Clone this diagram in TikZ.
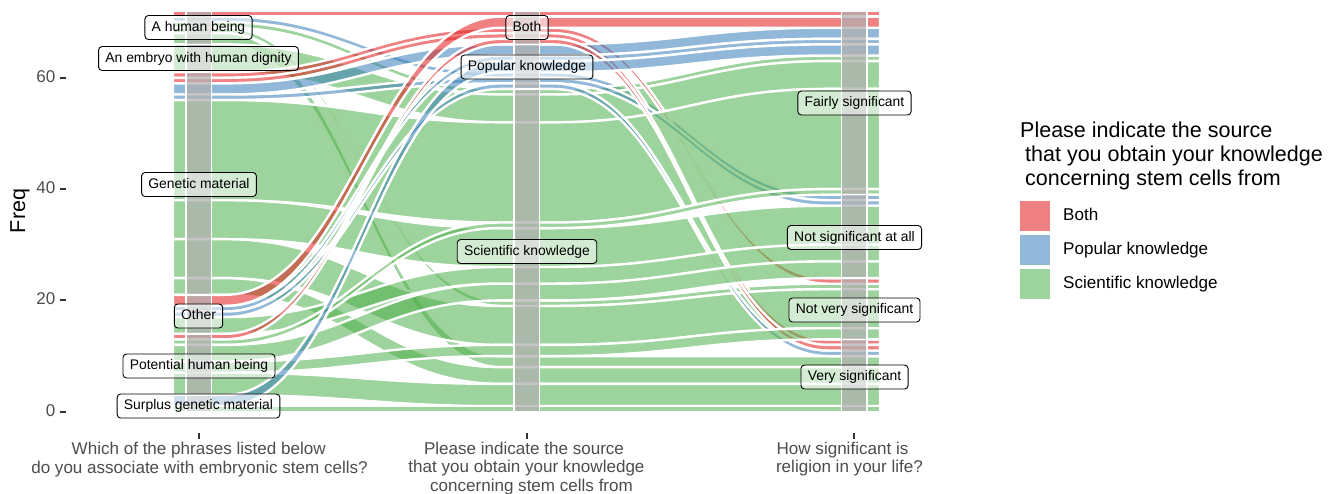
\documentclass[tikz,border=0pt]{standalone}
\usepackage{fontspec}
\setmainfont{Liberation Sans}
\definecolor{cB}{HTML}{E41A1C}
\definecolor{cP}{HTML}{377EB8}
\definecolor{cS}{HTML}{4DAF4A}
\definecolor{axtxt}{HTML}{4D4D4D}
\definecolor{tickc}{HTML}{333333}
\definecolor{strat}{RGB}{176,176,176}
\tikzset{
  alluvstyle/.style={fill opacity=0.55, draw=white, line width=2.4pt, line join=round},
  stratstyle/.style={fill=strat, fill opacity=0.72, draw=white, line width=1.6pt},
  lab/.style={draw=black, line width=0.9pt, fill=white, fill opacity=0.55, text opacity=1,
    rounded corners=3.5pt, font=\fontsize{13.9}{16}\selectfont, minimum height=24pt,
    inner xsep=6.8pt, inner ysep=0pt, text height=0.8em, text depth=0.1em},
  axlab/.style={font=\fontsize{17.05}{20}\selectfont, text=axtxt, inner sep=0pt,
    text height=0.9em, text depth=0em},
  ytl/.style={axlab, anchor=east},
  legt/.style={font=\fontsize{21.5}{24}\selectfont, text=black, inner sep=0pt,
    text height=0.9em, text depth=0em, anchor=west},
  legl/.style={font=\fontsize{17.05}{20}\selectfont, text=black, inner sep=0pt,
    text height=0.9em, text depth=0em, anchor=west},
  keybox/.style={minimum width=30pt, minimum height=30pt, inner sep=0pt, fill opacity=0.55, draw=none},
  tickmark/.style={draw=tickc, line width=2pt}
}
% colour, width, top at axis 1, top at axis 2, top at axis 3
\newcommand\alluv[5]{%
  \filldraw[alluvstyle, fill=#1]
    (173,#3) -- (225,#3) .. controls (349,#3) and (377,#4) .. (501,#4)
    -- (553,#4) .. controls (677,#4) and (704,#5) .. (828,#5)
    -- (880,#5) -- (880,{#5-#2}) -- (828,{#5-#2})
    .. controls (704,{#5-#2}) and (677,{#4-#2}) .. (553,{#4-#2})
    -- (501,{#4-#2}) .. controls (377,{#4-#2}) and (349,{#3-#2}) .. (225,{#3-#2})
    -- (173,{#3-#2}) -- cycle;}
\newcommand\stratbox[3]{\filldraw[stratstyle] ({#1-12.75},#2) rectangle ({#1+12.75},#3);}
\begin{document}
\begin{tikzpicture}[x=1pt,y=-1pt]
\useasboundingbox (0,0) rectangle (1333,493);
\begin{scope}[shift={(0,411.7)}, y=5.565pt]
  % alluvia
  \alluv{cB}{1}{72}{72}{72}
  \alluv{cP}{1}{71}{61}{39}
  \alluv{cS}{1}{70}{58}{64}
  \alluv{cS}{1}{69}{20}{23}
  \alluv{cS}{2}{68}{10}{10}
  \alluv{cS}{5}{66}{57}{63}
  \alluv{cB}{1}{61}{69}{24}
  \alluv{cB}{1}{60}{68}{13}
  \alluv{cP}{2}{59}{66}{69}
  \alluv{cP}{1}{57}{60}{38}
  \alluv{cS}{18}{56}{52}{58}
  \alluv{cS}{7}{38}{33}{37}
  \alluv{cS}{7}{31}{19}{22}
  \alluv{cS}{3}{24}{8}{8}
  \alluv{cB}{2}{21}{71}{71}
  \alluv{cP}{1}{19}{64}{67}
  \alluv{cP}{1}{18}{59}{11}
  \alluv{cS}{3}{17}{26}{30}
  \alluv{cB}{1}{14}{67}{12}
  \alluv{cS}{1}{13}{34}{40}
  \alluv{cS}{3}{12}{23}{27}
  \alluv{cS}{2}{9}{12}{15}
  \alluv{cS}{4}{7}{5}{5}
  \alluv{cP}{2}{3}{63}{66}
  \alluv{cS}{1}{1}{1}{1}
  % strata
  \stratbox{198.7}{66}{72}
  \stratbox{198.7}{61}{66}
  \stratbox{198.7}{21}{61}
  \stratbox{198.7}{14}{21}
  \stratbox{198.7}{3}{14}
  \stratbox{198.7}{0}{3}
  \stratbox{526.7}{66}{72}
  \stratbox{526.7}{58}{66}
  \stratbox{526.7}{0}{58}
  \stratbox{854.3}{39}{72}
  \stratbox{854.3}{24}{39}
  \stratbox{854.3}{13}{24}
  \stratbox{854.3}{0}{13}
\end{scope}
% stratum labels
\node[lab] (lHum) at (198.5,27.5) {A human being};
\node[lab] (lEmb) at (198.5,58.5) {An embryo with human dignity};
\node[lab] (lGen) at (199,184.5) {Genetic material};
\node[lab] (lOth) at (198.5,316) {Other};
\node[lab] (lPot) at (199,366) {Potential human being};
\node[lab] (lSur) at (198.5,406) {Surplus genetic material};
\node[lab] (lBoth) at (527,27.5) {Both};
\node[lab] (lPop) at (527,67) {Popular knowledge};
\node[lab] (lSci) at (527,251.5) {Scientific knowledge};
\node[lab] (lFai) at (854.5,103) {Fairly significant};
\node[lab] (lNsa) at (854.5,237.5) {Not significant at all};
\node[lab] (lNvs) at (854.5,310) {Not very significant};
\node[lab] (lVs) at (854.5,377) {Very significant};
% y axis
\node[ytl] (y0) at (55.5,411.7) {0};
\node[ytl] (y20) at (55.5,300.4) {20};
\node[ytl] (y40) at (55.5,189.1) {40};
\node[ytl] (y60) at (55.5,77.8) {60};
\draw[tickmark] (59.5,411.7) -- (65.5,411.7);
\draw[tickmark] (59.5,300.4) -- (65.5,300.4);
\draw[tickmark] (59.5,189.1) -- (65.5,189.1);
\draw[tickmark] (59.5,77.8) -- (65.5,77.8);
\node[font=\fontsize{21.5}{24}\selectfont, rotate=90, inner sep=0pt, text height=0.9em, text depth=0em] (ytitle) at (20.5,211) {Freq};
% x axis
\draw[tickmark] (198.7,433) -- (198.7,438.5);
\draw[tickmark] (526.7,433) -- (526.7,438.5);
\draw[tickmark] (854.3,433) -- (854.3,438.5);
\node[axlab] (x1a) at (198.7,450) {Which of the phrases listed below};
\node[axlab] (x1b) at (199.5,468.5) {do you associate with embryonic stem cells?};
\node[axlab] (x2a) at (524,449.5) {Please indicate the source};
\node[axlab] (x2b) at (526.5,468) {that you obtain your knowledge};
\node[axlab] (x2c) at (531.5,486.5) {concerning stem cells from};
\node[axlab] (x3a) at (842.5,449.5) {How significant is};
\node[axlab] (x3b) at (849.5,468) {religion in your life?};
% legend
\node[legt] (lt1) at (1020,132.5) {Please indicate the source};
\node[legt] (lt2) at (1025,156.5) {that you obtain your knowledge};
\node[legt] (lt3) at (1025,180.5) {concerning stem cells from};
\node[keybox, fill=cB] (kB) at (1035,216) {};
\node[keybox, fill=cP] (kP) at (1035,250) {};
\node[keybox, fill=cS] (kS) at (1035,284) {};
\node[legl] (tB) at (1063,216) {Both};
\node[legl] (tP) at (1063,250) {Popular knowledge};
\node[legl] (tS) at (1063,284) {Scientific knowledge};
\end{tikzpicture}
\end{document}
